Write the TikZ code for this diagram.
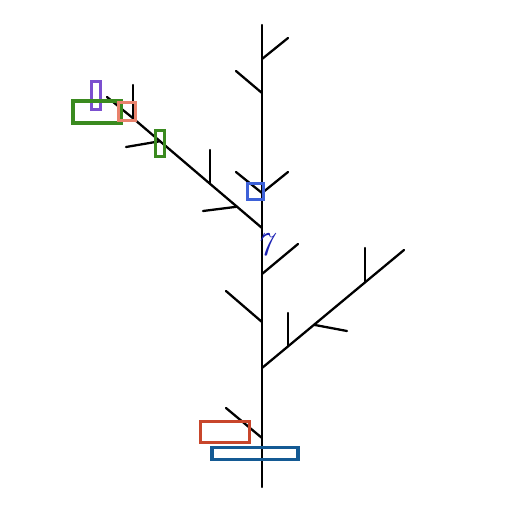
\documentclass[tikz,border=0pt]{standalone}
\usepackage{tikz}
\usetikzlibrary{positioning}
\usepackage{xcolor}
\definecolor{cPurple}{HTML}{7B4FCF}
\definecolor{cGreen}{HTML}{3A8A1F}
\definecolor{cSalmon}{HTML}{E9826C}
\definecolor{cBlue}{HTML}{3D61D8}
\definecolor{cRust}{HTML}{C8462B}
\definecolor{cNavy}{HTML}{145A94}
\definecolor{cInk}{HTML}{1C22B4}

\begin{document}
\begin{tikzpicture}[
  x=0.02cm, y=-0.02cm,
  stem/.style={line width=1.3pt, color=black, line cap=round},
  box/.style={rectangle, draw, line width=1.9pt, inner sep=0pt},
  bPurple/.style={box, draw=cPurple},
  bGreen/.style={box, draw=cGreen},
  bSalmon/.style={box, draw=cSalmon},
  bBlue/.style={box, draw=cBlue},
  bRust/.style={box, draw=cRust},
  bNavy/.style={box, draw=cNavy},
]
\useasboundingbox (0,0) rectangle (512,512);
% trunk
\coordinate (t0) at (262,487);
\coordinate (t1) at (262,438);
\coordinate (t2) at (262,368);
\coordinate (t3) at (262,322);
\coordinate (t4) at (262,274);
\coordinate (t5) at (262,228);
\coordinate (t6) at (262,193);
\coordinate (t7) at (262,93);
\coordinate (t8) at (262,59);
\coordinate (t9) at (262,25);
\draw[stem] (t0)--(t1)--(t2)--(t3)--(t4)--(t5)--(t6)--(t7)--(t8)--(t9);
% side twigs on the trunk
\coordinate (a1) at (226,408);
\coordinate (a3) at (226,291);
\coordinate (a4) at (298,244);
\coordinate (a6l) at (236,172);
\coordinate (a6r) at (288,172);
\coordinate (a7) at (236,71);
\coordinate (a8) at (288,38);
\draw[stem] (t1)--(a1);
\draw[stem] (t3)--(a3);
\draw[stem] (t4)--(a4);
\draw[stem] (t6)--(a6l);
\draw[stem] (t6)--(a6r);
\draw[stem] (t7)--(a7);
\draw[stem] (t8)--(a8);
% right limb
\coordinate (r1) at (288,346.4);
\coordinate (r2) at (314,324.8);
\coordinate (r3) at (365,282.4);
\coordinate (r4) at (404,250);
\coordinate (r1t) at (288,313);
\coordinate (r2t) at (347,331);
\coordinate (r3t) at (365,248);
\draw[stem] (t2)--(r1)--(r2)--(r3)--(r4);
\draw[stem] (r1)--(r1t);
\draw[stem] (r2)--(r2t);
\draw[stem] (r3)--(r3t);
% left limb
\coordinate (l1) at (237,206.7);
\coordinate (l2) at (210,183.8);
\coordinate (l3) at (160,141.2);
\coordinate (l4) at (133,118.2);
\coordinate (l5) at (107,97);
\coordinate (l1t) at (203,211);
\coordinate (l2t) at (210,150);
\coordinate (l3t) at (126,147);
\coordinate (l4t) at (133,85);
\draw[stem] (t5)--(l1)--(l2)--(l3)--(l4)--(l5);
\draw[stem] (l1)--(l1t);
\draw[stem] (l2)--(l2t);
\draw[stem] (l3)--(l3t);
\draw[stem] (l4)--(l4t);
% marks
\node[bPurple, minimum width=0.18cm, minimum height=0.56cm] (mPurple) at (96,95.5) {};
\node[bGreen, minimum width=0.96cm, minimum height=0.44cm] (mGreenA) at (97,112) {};
\node[bSalmon, minimum width=0.34cm, minimum height=0.36cm] (mSalmon) at (127,111.5) {};
\node[bGreen, minimum width=0.18cm, minimum height=0.52cm] (mGreenB) at (160,143.5) {};
\node[bBlue, minimum width=0.32cm, minimum height=0.32cm] (mBlue) at (255.5,191.5) {};
\node[bRust, minimum width=0.98cm, minimum height=0.42cm] (mRust) at (225,432) {};
\node[bNavy, minimum width=1.72cm, minimum height=0.24cm] (mNavy) at (255,453.5) {};
\node[text=cInk, font=\fontsize{19}{20}\selectfont, inner sep=0pt] (gly) at (266,245) {\textit{7}};
\end{tikzpicture}
\end{document}
